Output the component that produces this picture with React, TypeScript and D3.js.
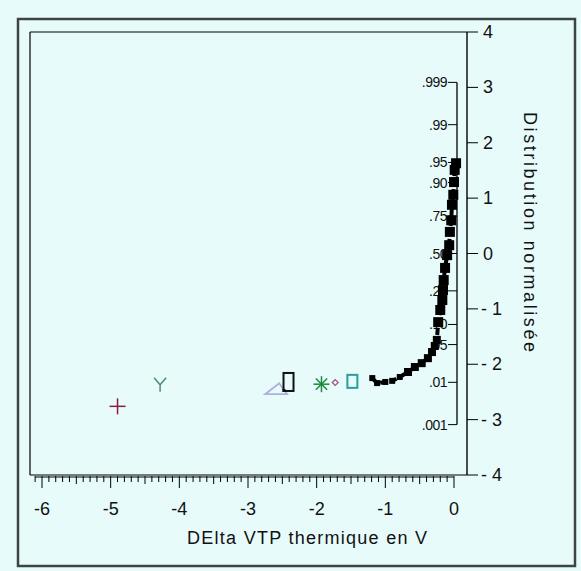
import React from "react";
import * as d3 from "d3";

const W = 581;
const H = 571;

// x tick labels
const xTicks = [-6, -5, -4, -3, -2, -1, 0];
// right axis (normal quantile) ticks
const zTicks = [-4, -3, -2, -1, 0, 1, 2, 3, 4];
// probability axis
const probTicks = [0.001, 0.01, 0.05, 0.1, 0.25, 0.5, 0.75, 0.9, 0.95, 0.99, 0.999];
const probLabels = [".001", ".01", ".05", ".10", ".25", ".50", ".75", ".90", ".95", ".99", ".999"];

// main series (delta VTP, normal quantile)
const curveX = [-1.19, -1.12, -1.0, -0.9, -0.79, -0.67, -0.57, -0.47, -0.38, -0.32, -0.28, -0.25, -0.23, -0.2, -0.17, -0.16, -0.15, -0.13, -0.1, -0.07, -0.06, -0.04, -0.03, -0.01, 0.0, 0.01, 0.03];
const curveZ = [-2.25, -2.34, -2.32, -2.3, -2.23, -2.14, -2.05, -1.98, -1.89, -1.78, -1.67, -1.56, -1.24, -1.02, -0.84, -0.66, -0.48, -0.26, -0.03, 0.15, 0.39, 0.6, 0.88, 1.06, 1.29, 1.51, 1.63];

// isolated points
const otherNames = ["plus", "y", "triangle", "rect", "asterisk", "diamond", "square"];
const otherX = [-4.9, -4.28, -2.59, -2.41, -1.93, -1.73, -1.48];
const otherZ = [-2.76, -2.37, -2.45, -2.32, -2.36, -2.33, -2.3];
const otherColors = ["#8a1d3c", "#4f8f6f", "#b0b0e0", "#111111", "#1d8a3a", "#a05078", "#2a9e9e"];

function invNorm(p: number): number {
  const a = [-3.969683028665376e1, 2.209460984245205e2, -2.759285104469687e2, 1.38357751867269e2, -3.066479806614716e1, 2.506628277459239];
  const b = [-5.447609879822406e1, 1.615858368580409e2, -1.556989798598866e2, 6.680131188771972e1, -1.328068155288572e1];
  const c = [-7.784894002430293e-3, -3.223964580411365e-1, -2.400758277161838, -2.549732539343734, 4.374664141464968, 2.938163982698783];
  const d = [7.784695709041462e-3, 3.224671290700398e-1, 2.445134137142996, 3.754408661907416];
  const pl = 0.02425;
  if (p < pl) {
    const q = Math.sqrt(-2 * Math.log(p));
    return (((((c[0] * q + c[1]) * q + c[2]) * q + c[3]) * q + c[4]) * q + c[5]) / ((((d[0] * q + d[1]) * q + d[2]) * q + d[3]) * q + 1);
  } else if (p <= 1 - pl) {
    const q = p - 0.5;
    const r = q * q;
    return ((((((a[0] * r + a[1]) * r + a[2]) * r + a[3]) * r + a[4]) * r + a[5]) * q) / (((((b[0] * r + b[1]) * r + b[2]) * r + b[3]) * r + b[4]) * r + 1);
  } else {
    const q = Math.sqrt(-2 * Math.log(1 - p));
    return -(((((c[0] * q + c[1]) * q + c[2]) * q + c[3]) * q + c[4]) * q + c[5]) / ((((d[0] * q + d[1]) * q + d[2]) * q + d[3]) * q + 1);
  }
}

export default function App() {
  const x = d3.scaleLinear().domain([-6, 0]).range([42, 454]);
  const z = d3.scaleLinear().domain([-4, 4]).range([475, 32]);
  const frameL = 30;
  const frameR = 467;
  const frameT = z(4);
  const frameB = z(-4);
  const probX = 457;
  const font = "'Liberation Sans', Arial, sans-serif";

  const minorTicks = d3.range(-61, 1).map((i) => i / 10);
  const line = d3
    .line<number>()
    .x((_, i) => x(curveX[i]))
    .y((_, i) => z(curveZ[i]));

  const renderMarker = (name: string, cx: number, cy: number, color: string, key: number) => {
    switch (name) {
      case "plus":
        return (
          <g key={key} stroke={color} strokeWidth={1.5}>
            <line x1={cx - 8} x2={cx + 8} y1={cy} y2={cy} />
            <line x1={cx} x2={cx} y1={cy - 8} y2={cy + 8} />
          </g>
        );
      case "y":
        return (
          <g key={key} stroke={color} strokeWidth={1.5} fill="none">
            <path d={`M${cx - 6},${cy - 7} L${cx},${cy} L${cx + 6},${cy - 7} M${cx},${cy} L${cx},${cy + 7}`} />
          </g>
        );
      case "triangle":
        return (
          <path key={key} d={`M${cx - 11},${cy + 5} L${cx + 11},${cy + 5} L${cx + 3},${cy - 6} Z`} fill="none" stroke={color} strokeWidth={1.8} />
        );
      case "rect":
        return (
          <g key={key}>
            <rect x={cx - 5} y={cy - 9} width={10} height={18} fill="#e8fbfb" stroke={color} strokeWidth={2} />
            <rect x={cx - 6} y={cy + 7} width={3} height={3} fill={color} />
          </g>
        );
      case "asterisk":
        return (
          <g key={key} stroke={color} strokeWidth={1.5}>
            {[0, 45, 90, 135].map((a) => {
              const r = (a * Math.PI) / 180;
              return <line key={a} x1={cx - 8 * Math.cos(r)} y1={cy - 8 * Math.sin(r)} x2={cx + 8 * Math.cos(r)} y2={cy + 8 * Math.sin(r)} />;
            })}
          </g>
        );
      case "diamond":
        return <path key={key} d={`M${cx - 3},${cy} L${cx},${cy - 3} L${cx + 3},${cy} L${cx},${cy + 3} Z`} fill="none" stroke={color} strokeWidth={1.2} />;
      case "square":
        return <rect key={key} x={cx - 5} y={cy - 6} width={10} height={13} fill="none" stroke={color} strokeWidth={2} />;
      default:
        return null;
    }
  };

  return (
    <svg width={W} height={H} style={{ position: "absolute", left: 0, top: 0, background: "#e8fbfb" }} fontFamily={font}>
      <rect x={0} y={0} width={W} height={H} fill="#e8fbfb" />
      {/* outer frame */}
      <rect x={18} y={19} width={557} height={547} fill="none" stroke="#3c4444" strokeWidth={2.5} />

      {/* inner frame */}
      <line x1={frameL} x2={frameR} y1={frameT} y2={frameT} stroke="#000" strokeWidth={1.2} />
      <line x1={frameL} x2={frameR} y1={frameB} y2={frameB} stroke="#000" strokeWidth={1.2} />
      <line x1={frameL} x2={frameL} y1={frameT} y2={frameB} stroke="#000" strokeWidth={1.2} />
      <line x1={frameR} x2={frameR} y1={frameT} y2={frameB} stroke="#000" strokeWidth={1.4} />

      {/* x axis ticks */}
      {minorTicks.map((t) => {
        const isMajor = Math.abs(t - Math.round(t)) < 1e-6;
        const isHalf = Math.abs(t * 2 - Math.round(t * 2)) < 1e-6;
        const len = isMajor ? 12 : isHalf ? 8 : 6;
        return <line key={t} x1={x(t)} x2={x(t)} y1={frameB + 1} y2={frameB + 1 + len} stroke="#000" strokeWidth={1} />;
      })}
      <line x1={x(-6.1)} x2={x(0)} y1={frameB + 2} y2={frameB + 2} stroke="#000" strokeWidth={1} />
      {xTicks.map((t) => (
        <text key={t} x={x(t)} y={515} textAnchor="middle" fontSize={18} fill="#111">
          {t === 0 ? "0" : `-${Math.abs(t)}`}
        </text>
      ))}
      <text x={307} y={544} textAnchor="middle" fontSize={18} fill="#111" textLength={240} lengthAdjust="spacing">
        DElta VTP thermique en V
      </text>

      {/* right z axis */}
      {zTicks.map((t) => (
        <g key={t}>
          <line x1={frameR} x2={frameR + 11} y1={z(t)} y2={z(t)} stroke="#000" strokeWidth={1} />
          <text x={t < 0 ? frameR + 14 : frameR + 16} y={z(t) + 6} fontSize={18} fill="#111">
            {t < 0 ? `- ${Math.abs(t)}` : `${t}`}
          </text>
        </g>
      ))}
      <text
        transform={`translate(524, 232) rotate(90)`}
        textAnchor="middle"
        fontSize={18}
        fill="#111"
        textLength={240}
        lengthAdjust="spacing"
      >
        Distribution normalisée
      </text>

      {/* probability axis */}
      <line x1={probX} x2={probX} y1={z(invNorm(0.999))} y2={z(invNorm(0.001))} stroke="#000" strokeWidth={1.3} />
      {probTicks.map((p, i) => {
        const yy = z(invNorm(p));
        return (
          <g key={p}>
            <line x1={probX - 9} x2={probX} y1={yy} y2={yy} stroke="#000" strokeWidth={1} />
            <text x={probX - 10} y={yy + 5} textAnchor="end" fontSize={14} fill="#111" letterSpacing={-0.5}>
              {probLabels[i]}
            </text>
          </g>
        );
      })}

      {/* other points */}
      {otherNames.map((n, i) => renderMarker(n, x(otherX[i]), z(otherZ[i]), otherColors[i], i))}

      {/* main curve */}
      <path d={line(curveX) || ""} fill="none" stroke="#000" strokeWidth={4} strokeDasharray="7,3" />
      {curveX.map((v, i) => {
        const s = i < 5 ? 6 : i < 12 ? 8 : 10;
        return <rect key={i} x={x(v) - s / 2} y={z(curveZ[i]) - s / 2} width={s} height={s} fill="#000" />;
      })}
    </svg>
  );
}
